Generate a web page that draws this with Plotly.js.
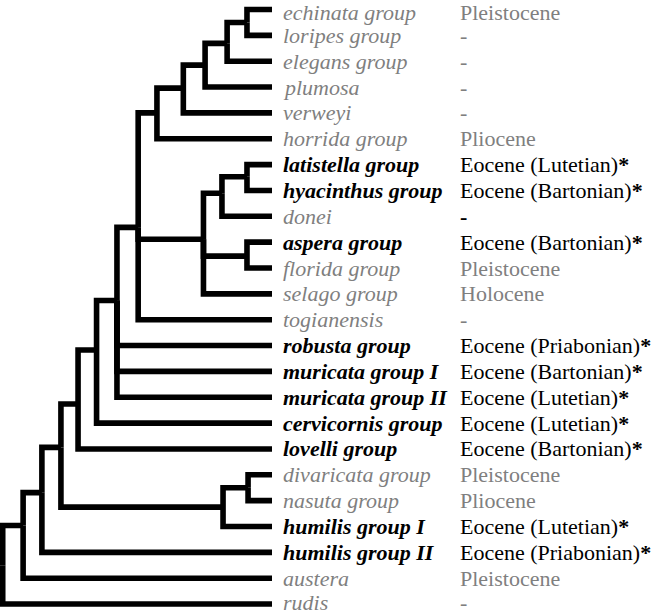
<!DOCTYPE html>
<html>
<head>
<meta charset="utf-8">
<script src="https://cdn.plot.ly/plotly-3.0.1.min.js"></script>
<style>html,body{margin:0;padding:0;background:#fff;}#chart{width:658px;height:615px;}</style>
</head>
<body>
<div id="chart"></div>
<script>
// ---- Leaves (top to bottom) ----
const leafNames = ["echinata group","loripes group","elegans group","plumosa","verweyi","horrida group",
  "latistella group","hyacinthus group","donei","aspera group","florida group","selago group",
  "togianensis","robusta group","muricata group I","muricata group II","cervicornis group",
  "lovelli group","divaricata group","nasuta group","humilis group I","humilis group II","austera","rudis"];
const leafAges = ["Pleistocene","-","-","-","-","Pliocene",
  "Eocene (Lutetian)*","Eocene (Bartonian)*","-","Eocene (Bartonian)*","Pleistocene","Holocene",
  "-","Eocene (Priabonian)*","Eocene (Bartonian)*","Eocene (Lutetian)*","Eocene (Lutetian)*",
  "Eocene (Bartonian)*","Pleistocene","Pliocene","Eocene (Lutetian)*","Eocene (Priabonian)*","Pleistocene","-"];
// Eocene fossil record highlighted
const fossilName = [0,0,0,0,0,0, 1,1,0,1,0,0, 0,1,1,1,1, 1,0,0,1,1,0,0];
const fossilAge  = [0,0,0,0,0,0, 1,1,1,1,0,0, 0,1,1,1,1, 1,0,0,1,1,0,0];

// ---- Internal nodes (cladogram; depth: tips = 100) ----
const nodeIds      = ["A","B","C","D","E","F","G","H","LH","AF","I","J","K","L","M","DN","N","O","P"];
const nodeDepth    = [90.8,83.5,75.4,67.4,57.7,50.8,74.8,81.6,90.8,90.8,43.0,35.5,28.7,22.4,82.0,91.2,15.4,8.5,1.0];
const nodeY        = [0.5,1.31,2.15,3.04,4.0,8.43,8.89,7.11,6.47,9.54,11.26,13.17,15.26,16.94,19.25,18.5,18.69,19.96,21.5];
const nodeChildren = [[0,1],["A",2],["B",3],["C",4],["D",5],["E","G",12],["H","AF",11],["LH",8],[6,7],[9,10],
  ["F",13,14,15],["I",16],["J",17],["K","M"],["DN",20],[18,19],["L",21],["N",22],["O",23]];
const tipDepth = 100;

// ---- Build elbow segments ----
const xs = [], ys = [];
nodeIds.forEach((id, k) => {
  const px = nodeDepth[k], py = nodeY[k];
  nodeChildren[k].forEach(c => {
    let cx, cy;
    if (typeof c === "number") { cx = tipDepth; cy = c; }
    else { const j = nodeIds.indexOf(c); cx = nodeDepth[j]; cy = nodeY[j]; }
    xs.push(px, px, cx, null);
    ys.push(py, cy, cy, null);
  });
});

const trace = {
  x: xs, y: ys, type: "scatter", mode: "lines",
  line: {color: "#000", width: 5.6, shape: "linear"},
  hoverinfo: "skip", connectgaps: false
};

const gray = "#7f7f7f";
const fontFam = "'Liberation Serif', 'Times New Roman', Times, serif";
const nLeaf = leafNames.length;
const annotations = [];
leafNames.forEach((n, i) => {
  // keep the first/last rows fully inside the picture
  const ys_ = i === 0 ? -3 : (i === nLeaf - 1 ? 2 : 0);
  annotations.push({
    x: 103.2, y: i, xref: "x", yref: "y", xanchor: "left", yanchor: "middle", yshift: ys_,
    text: fossilName[i] ? "<b><i>" + n + "</i></b>" : "<i>" + n + "</i>",
    showarrow: false, align: "left",
    font: {family: fontFam, size: 22, color: fossilName[i] ? "#000" : gray}
  });
  let a = leafAges[i];
  let t = a.replace("*", "<b>*</b>");
  if (fossilAge[i] && a === "-") t = "<b>-</b>";
  annotations.push({
    x: 168.3, y: i, xref: "x", yref: "y", xanchor: "left", yanchor: "middle", yshift: ys_,
    text: t, showarrow: false, align: "left",
    font: {family: fontFam, size: 22, color: fossilAge[i] ? "#000" : gray}
  });
});

const layout = {
  width: 658, height: 615,
  margin: {l: 0, r: 0, t: 0, b: 0, pad: 0},
  paper_bgcolor: "#fff", plot_bgcolor: "#fff",
  showlegend: false,
  font: {family: fontFam},
  xaxis: {range: [0, 658 / 2.72], visible: false, fixedrange: true},
  yaxis: {range: [(615 - 9.5) / 25.85, -9.5 / 25.85], visible: false, fixedrange: true},
  annotations: annotations
};

Plotly.newPlot("chart", [trace], layout, {displayModeBar: false, staticPlot: true});
</script>
</body>
</html>
